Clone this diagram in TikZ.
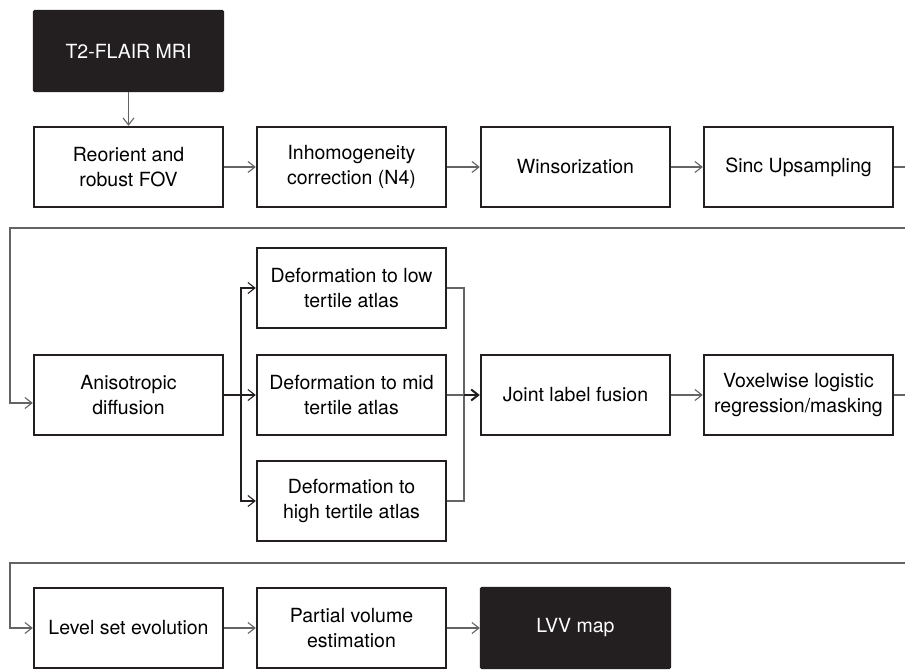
\documentclass[tikz,border=0pt]{standalone}
\usepackage{fontspec}
\setmainfont{TeX Gyre Heros}
\usepackage{tikz}
\usetikzlibrary{arrows.meta}
\usepackage{xcolor}
\definecolor{ink}{RGB}{35, 31, 32}
\definecolor{wire}{RGB}{100, 100, 100}

\begin{document}
\begin{tikzpicture}[
    x=1pt, y=-1pt,
    font=\fontsize{19.5}{25}\selectfont,
    block/.style={draw=ink, line width=2.4pt, minimum width=189pt,
        minimum height=80pt, align=center, inner sep=0pt, fill=white},
    final/.style={block, fill=ink, text=white, rounded corners=1pt},
    flow/.style={-{Straight Barb[length=7pt, width=11pt]}, line width=1.1pt,
        draw=wire},
    line/.style={line width=1.1pt, draw=wire},
    strong/.style={flow, line width=2pt, draw=ink}
]
    \clip (0,0) rectangle (905,670);
    \fill[white] (0,0) rectangle (905,670);

    \node[final] (t2) at (128.5,51) {T2-FLAIR MRI};

    \node[block] (reorient) at (128.5,167) {Reorient and\\robust FOV};
    \node[block] (inhom) at (351.5,167) {Inhomogeneity\\correction (N4)};
    \node[block] (winsor) at (575.5,167) {Winsorization};
    \node[block] (sinc) at (798.5,167) {Sinc Upsampling};

    \node[block] (aniso) at (128.5,395) {Anisotropic\\diffusion};
    \node[block] (lowatlas) at (351.5,288) {Deformation to low\\tertile atlas};
    \node[block] (midatlas) at (351.5,395) {Deformation to mid\\tertile atlas};
    \node[block] (highatlas) at (351.5,501) {Deformation to\\high tertile atlas};
    \node[block] (fusion) at (575.5,395) {Joint label fusion};
    \node[block] (voxel) at (798.5,395) {Voxelwise logistic\\regression/masking};

    \node[block] (levelset) at (128.5,628) {Level set evolution};
    \node[block] (partial) at (351.5,628) {Partial volume\\estimation};
    \node[final] (lvv) at (575.5,628) {LVV map};

    \coordinate (wrapA) at (925,228);
    \coordinate (backA) at (10,228);
    \coordinate (split) at (241,395);
    \coordinate (merge) at (464,395);
    \coordinate (wrapB) at (925,563);
    \coordinate (backB) at (10,563);

    \draw[flow] (t2.south) -- (reorient.north);
    \draw[flow] (reorient.east) -- (inhom.west);
    \draw[flow] (inhom.east) -- (winsor.west);
    \draw[flow] (winsor.east) -- (sinc.west);
    \draw[flow] (sinc.east) -| (wrapA) -- (backA)
        |- ([yshift=-8pt]aniso.west);

    \draw[line, draw=ink, line width=1.8pt] (aniso.east) -- (split);
    \draw[flow, draw=ink] (split) |- (lowatlas.west);
    \draw[flow, draw=ink] (split) -- (midatlas.west);
    \draw[flow, draw=ink] (split) |- (highatlas.west);
    \draw[line] (lowatlas.east) -| (merge);
    \draw[line] (highatlas.east) -| (merge);
    \draw[line] (midatlas.east) -- (merge);
    \draw[strong] (merge) -- (fusion.west);
    \draw[flow] (fusion.east) -- (voxel.west);
    \draw[flow] (voxel.east) -| (wrapB) -- (backB) |- (levelset.west);

    \draw[flow] (levelset.east) -- (partial.west);
    \draw[flow] (partial.east) -- (lvv.west);
\end{tikzpicture}
\end{document}
